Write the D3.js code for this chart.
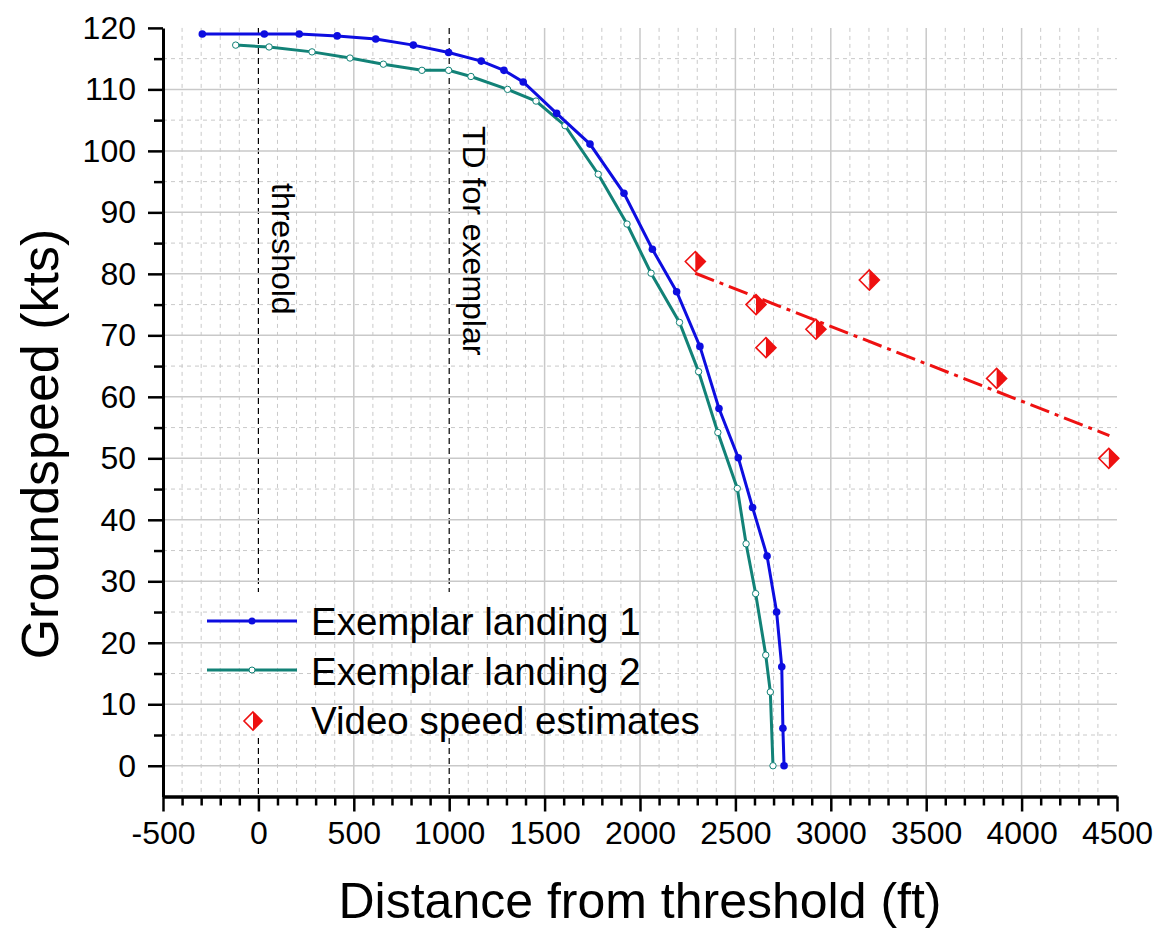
<!DOCTYPE html>
<html>
<head>
<meta charset="utf-8">
<script src="https://cdn.jsdelivr.net/npm/d3@7"></script>
<style>
  body { margin: 0; background: #fff; }
  svg text { font-family: "Liberation Sans", Arial, sans-serif; fill: #000; }
  .axis path, .axis line { stroke: #000; }
</style>
</head>
<body>
<div id="chart"></div>
<script>
// Exemplar landing 1 (distance ft, groundspeed kts)
const landing1X = [-294, 31, 214, 413, 615, 812, 997, 1168, 1287, 1388, 1563, 1738, 1916, 2065, 2192, 2314, 2414, 2515, 2590, 2666, 2716, 2743, 2749, 2755];
const landing1Y = [119, 119, 119, 118.7, 118.2, 117.2, 116, 114.6, 113.1, 111.2, 106.1, 101.1, 93.1, 84, 77.1, 68.2, 58.1, 50.1, 42, 34.1, 25, 16.1, 6.1, 0];

// Exemplar landing 2
const landing2X = [-119, 56, 281, 480, 655, 857, 997, 1114, 1306, 1455, 1607, 1781, 1932, 2058, 2207, 2307, 2408, 2510, 2556, 2606, 2659, 2683, 2697];
const landing2Y = [117.2, 116.9, 116.1, 115.1, 114.1, 113.1, 113.1, 112.1, 110, 108.1, 104.1, 96.2, 88.1, 80.1, 72.1, 64.1, 54.2, 45.1, 36.1, 28, 18, 12, 0];

// Video speed estimates
const videoX = [2290, 2608, 2660, 2922, 3202, 3869, 4457];
const videoY = [82, 75, 68, 71, 79, 63, 50];

// linear fit through the video estimates (end points)
const fitX = [2290, 4460];
const fitY = [80.1, 53.7];

// reference lines
const refLinesX = [0, 1000];
const refLabels = ['threshold', 'TD for exemplar'];

const xTicks = d3.range(-500, 4501, 500);
const xMinor = d3.range(-500, 4501, 100).filter(d => d % 500 !== 0);
const yTicks = d3.range(0, 121, 10);
const yMinor = d3.range(-5, 120, 10).filter(d => d > -5);

const legendNames = ['Exemplar landing 1', 'Exemplar landing 2', 'Video speed estimates'];

const blue = '#0d0de0', teal = '#128277', red = '#ee1111', grid = '#c9c9c9';

const W = 1161, H = 930;
const svg = d3.select('#chart').append('svg').attr('width', W).attr('height', H);

const x = d3.scaleLinear().domain([-500, 4500]).range([163, 1117]);
const y = d3.scaleLinear().domain([-5, 120]).range([796.5, 27.9]);

// black dashed reference lines (below legend background)
svg.append('g').selectAll('line').data(refLinesX).enter().append('line')
  .attr('x1', d => x(d)).attr('x2', d => x(d))
  .attr('y1', y(120)).attr('y2', y(-5))
  .attr('stroke', '#000').attr('stroke-width', 1.2).attr('stroke-dasharray', '6,4');

// legend background hides the reference lines
svg.append('rect').attr('x', 198).attr('y', 592).attr('width', 520).attr('height', 146).attr('fill', '#fff');

// grid
const g = svg.append('g');
g.selectAll('.vmin').data(xMinor).enter().append('line')
  .attr('x1', d => x(d)).attr('x2', d => x(d)).attr('y1', y(120)).attr('y2', y(-5))
  .attr('stroke', grid).attr('stroke-width', 1).attr('stroke-dasharray', '4,4');
g.selectAll('.hmin').data(yMinor).enter().append('line')
  .attr('y1', d => y(d)).attr('y2', d => y(d)).attr('x1', x(-500)).attr('x2', x(4500))
  .attr('stroke', grid).attr('stroke-width', 1).attr('stroke-dasharray', '4,4');
g.selectAll('.vmaj').data(xTicks.filter(d => d > -500 && d < 4500 && d !== 0 && d !== 1000)).enter().append('line')
  .attr('x1', d => x(d)).attr('x2', d => x(d)).attr('y1', y(120)).attr('y2', y(-5))
  .attr('stroke', grid).attr('stroke-width', 1.5);
g.selectAll('.hmaj').data(yTicks.filter(d => d < 120)).enter().append('line')
  .attr('y1', d => y(d)).attr('y2', d => y(d)).attr('x1', x(-500)).attr('x2', x(4500))
  .attr('stroke', grid).attr('stroke-width', 1.5);

// reference labels
svg.append('g').selectAll('text').data(refLinesX).enter().append('text')
  .attr('transform', (d, i) => 'translate(' + (x(d) + 14) + ',' + (i === 0 ? 183 : 126) + ') rotate(90)')
  .attr('font-size', 32)
  .text((d, i) => refLabels[i]);

// axes
const xAxis = svg.append('g').attr('class', 'axis')
  .attr('transform', 'translate(0,' + y(-5) + ')')
  .call(d3.axisBottom(x).tickValues(xTicks).tickSize(15).tickSizeOuter(0).tickPadding(10).tickFormat(d => String(d)));
xAxis.select('.domain').attr('stroke-width', 3.5);
xAxis.selectAll('.tick line').attr('stroke-width', 2.5);
xAxis.selectAll('text').attr('font-size', 32).attr('font-family', '"Liberation Sans", Arial, sans-serif').attr('fill', '#000');
const xAxisMinor = svg.append('g').attr('class', 'axis')
  .attr('transform', 'translate(0,' + y(-5) + ')')
  .call(d3.axisBottom(x).tickValues(xMinor).tickSize(9).tickFormat(''));
xAxisMinor.select('.domain').remove();
xAxisMinor.selectAll('.tick line').attr('stroke-width', 2.5);

const yAxis = svg.append('g').attr('class', 'axis')
  .attr('transform', 'translate(' + x(-500) + ',0)')
  .call(d3.axisLeft(y).tickValues(yTicks).tickSize(15).tickSizeOuter(0).tickPadding(12));
yAxis.select('.domain').attr('stroke-width', 3);
yAxis.selectAll('.tick line').attr('stroke-width', 2.5);
yAxis.selectAll('text').attr('font-size', 32).attr('font-family', '"Liberation Sans", Arial, sans-serif').attr('fill', '#000');
const yAxisMinor = svg.append('g').attr('class', 'axis')
  .attr('transform', 'translate(' + x(-500) + ',0)')
  .call(d3.axisLeft(y).tickValues(yMinor).tickSize(9).tickFormat(''));
yAxisMinor.select('.domain').remove();
yAxisMinor.selectAll('.tick line').attr('stroke-width', 2.5);

// axis titles
svg.append('text').attr('x', 640).attr('y', 918).attr('text-anchor', 'middle')
  .attr('font-size', 50).text('Distance from threshold (ft)');
svg.append('text').attr('transform', 'translate(58,444) rotate(-90)').attr('text-anchor', 'middle')
  .attr('font-size', 52).text('Groundspeed (kts)');

// series
const line = d3.line().x(d => x(d[0])).y(d => y(d[1]));
const s1 = landing1X.map((v, i) => [v, landing1Y[i]]);
const s2 = landing2X.map((v, i) => [v, landing2Y[i]]);

svg.append('path').datum(s2).attr('d', line).attr('fill', 'none').attr('stroke', teal).attr('stroke-width', 3);
svg.append('g').selectAll('circle').data(s2).enter().append('circle')
  .attr('cx', d => x(d[0])).attr('cy', d => y(d[1])).attr('r', 3.2)
  .attr('fill', '#fff').attr('stroke', teal).attr('stroke-width', 1);

svg.append('path').datum(s1).attr('d', line).attr('fill', 'none').attr('stroke', blue).attr('stroke-width', 3);
svg.append('g').selectAll('circle').data(s1).enter().append('circle')
  .attr('cx', d => x(d[0])).attr('cy', d => y(d[1])).attr('r', 3.8).attr('fill', blue);

// fit line
svg.append('path').datum(fitX.map((v, i) => [v, fitY[i]])).attr('d', line)
  .attr('fill', 'none').attr('stroke', red).attr('stroke-width', 3).attr('stroke-dasharray', '20,6,4,6');

// half-filled diamonds
function diamond(sel, cx, cy, r) {
  const gg = sel.append('g').attr('transform', 'translate(' + cx + ',' + cy + ')');
  gg.append('path').attr('d', `M0,${-r}L${r},0L0,${r}Z`).attr('fill', red);
  gg.append('path').attr('d', `M0,${-r}L${r},0L0,${r}L${-r},0Z`).attr('fill', 'none')
    .attr('stroke', red).attr('stroke-width', 1.6);
}
const vg = svg.append('g');
videoX.forEach((v, i) => diamond(vg, x(v), y(videoY[i]), 10));

// legend
const lg = svg.append('g');
[[blue, 'dot'], [teal, 'open']].forEach((s, i) => {
  const ly = 621 + i * 49;
  lg.append('line').attr('x1', 207).attr('x2', 297).attr('y1', ly).attr('y2', ly)
    .attr('stroke', s[0]).attr('stroke-width', 3);
  if (s[1] === 'dot') lg.append('circle').attr('cx', 252).attr('cy', ly).attr('r', 3.5).attr('fill', blue);
  else lg.append('circle').attr('cx', 252).attr('cy', ly).attr('r', 3).attr('fill', '#fff').attr('stroke', teal);
});
diamond(lg, 253, 721, 9);
lg.selectAll('text').data(legendNames).enter().append('text')
  .attr('x', 311).attr('y', (d, i) => 635 + i * 49.5)
  .attr('font-size', 38.5).text(d => d);
</script>
</body>
</html>
